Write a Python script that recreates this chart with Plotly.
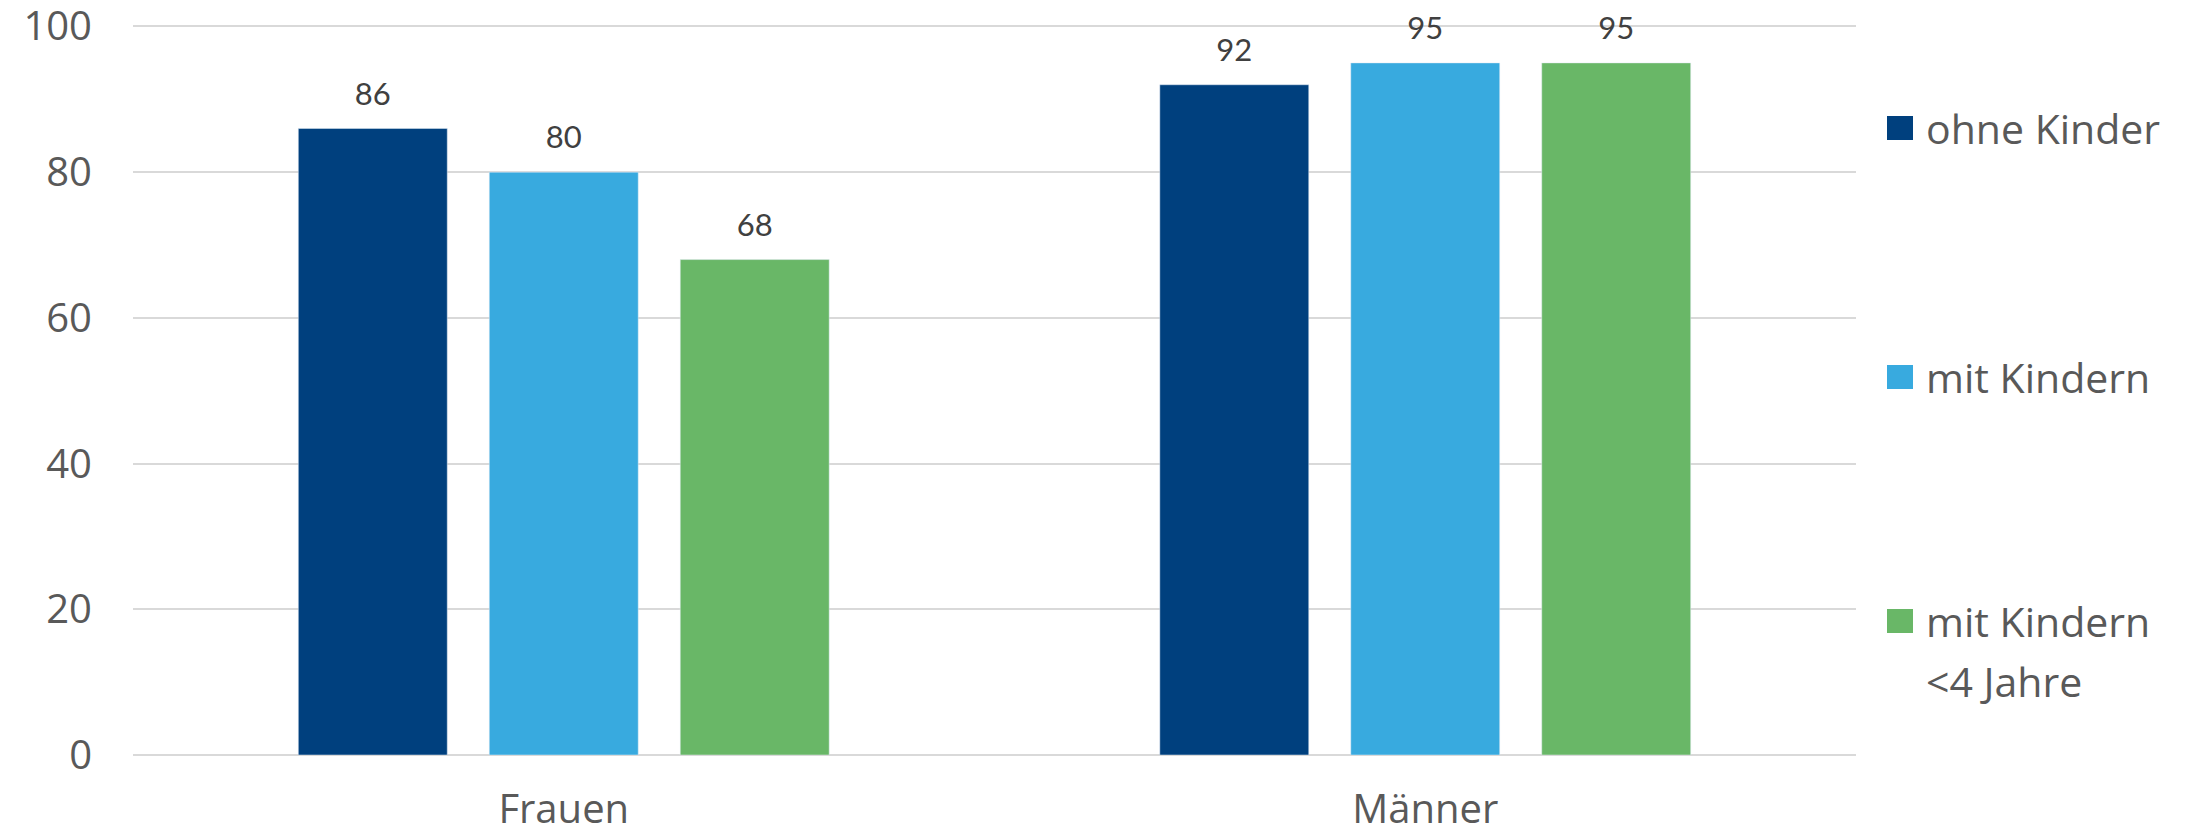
import plotly.graph_objects as go

categories = ["Frauen", "Männer"]
series_names = ["ohne Kinder", "mit Kindern", "mit Kindern<br><4 Jahre"]
ohne_kinder = [86, 92]
mit_kindern = [80, 95]
mit_kindern_u4 = [68, 95]
series_values = [ohne_kinder, mit_kindern, mit_kindern_u4]
colors = ["#00407E", "#38AADF", "#69B767"]
y_ticks = [0, 20, 40, 60, 80, 100]

# page body has an 8px margin; figure is offset by it
W, H = 2179, 828
ML, MR, MT, MB = 125, 331, 17, 81

fig = go.Figure()
for i, (name, vals) in enumerate(zip(series_names, series_values)):
    fig.add_trace(go.Bar(
        x=categories, y=vals, name=name, marker_color=colors[i],
        offsetgroup=str(i), showlegend=False,
    ))
for i, vals in enumerate(series_values):
    fig.add_trace(go.Scatter(
        x=categories, y=vals, mode="markers+text", offsetgroup=str(i),
        text=[str(v) for v in vals], textposition="top center",
        marker=dict(size=24, opacity=0), hoverinfo="skip",
        textfont=dict(family="Lato", size=31, color="#404040"),
        showlegend=False, cliponaxis=False,
    ))

# legend (manual, right side)
pw = W - ML - MR
ph = H - MT - MB
def px_x(x):
    return (x - ML) / pw
def px_y(y):
    return (H - MB - y) / ph

leg_centers = [120, 369, 613]
line_step = 60
for i, name in enumerate(series_names):
    yc = leg_centers[i]
    fig.add_shape(type="rect", xref="paper", yref="paper",
                  x0=px_x(1879), x1=px_x(1905), y0=px_y(yc + 12), y1=px_y(yc - 12),
                  fillcolor=colors[i], line_width=0)
    for j, line in enumerate(name.split("<br>")):
        fig.add_annotation(xref="paper", yref="paper", x=px_x(1916),
                           y=px_y(yc + j * line_step),
                           text=line, showarrow=False, xanchor="left",
                           yanchor="middle", align="left",
                           font=dict(family="Open Sans", size=41, color="#595959"))

fig.update_layout(
    width=W, height=H,
    margin=dict(l=ML, r=MR, t=MT, b=MB, autoexpand=False),
    plot_bgcolor="white", paper_bgcolor="white",
    barmode="group", bargap=0.335, bargroupgap=0.22,
    scattermode="group", scattergap=0.335,
    showlegend=False,
    font=dict(family="Open Sans", color="#595959"),
)
fig.update_yaxes(range=[0, 100.2], tickvals=y_ticks, showgrid=True,
                 gridcolor="#D9D9D9", gridwidth=2, zeroline=True,
                 zerolinecolor="#D9D9D9", zerolinewidth=2, automargin=False,
                 tickfont=dict(family="Open Sans", size=40, color="#595959"),
                 ticklabelstandoff=40, ticklabeloverflow="allow", showline=False)
fig.update_xaxes(tickfont=dict(family="Open Sans", size=40, color="#595959"),
                 ticklabelstandoff=27, showline=False, automargin=False)

fig.write_html("out.html")
